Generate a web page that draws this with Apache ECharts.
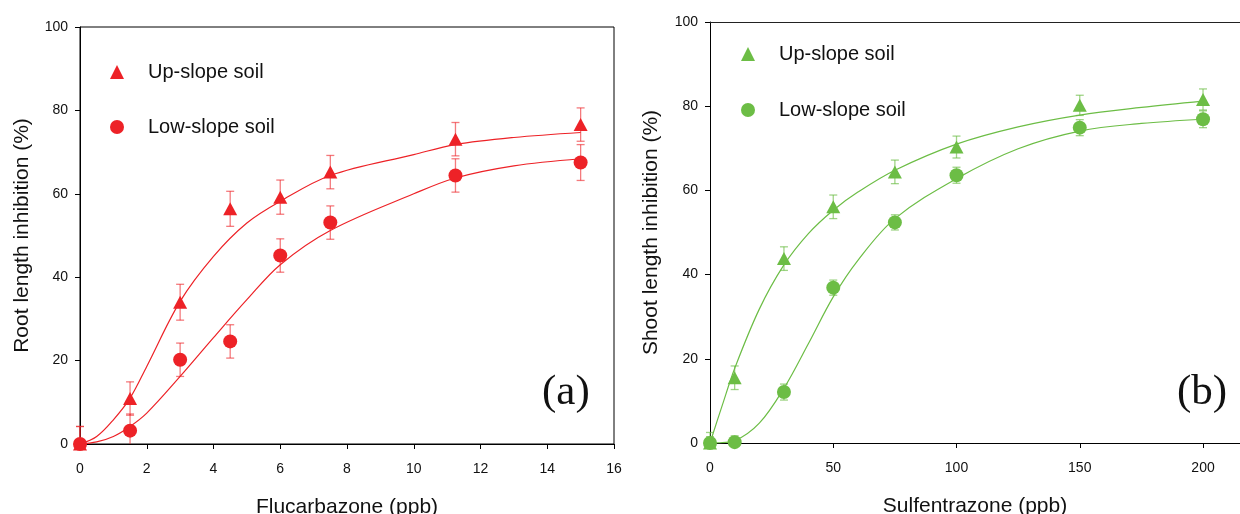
<!DOCTYPE html>
<html>
<head>
<meta charset="utf-8">
<script src="https://cdn.jsdelivr.net/npm/echarts@6/dist/echarts.min.js"></script>
<style>
  html, body { margin: 0; padding: 0; background: #fff; }
  #chart { width: 1240px; height: 514px; }
</style>
</head>
<body>
<div id="chart"></div>
<script>
// panel (a) - flucarbazone, root length
const concA = [0, 1.5, 3, 4.5, 6, 7.5, 11.25, 15]
const upA = [0, 10.9, 34.0, 56.4, 59.2, 65.2, 73.1, 76.6]
const upErrA = [4.2, 4, 4.3, 4.2, 4.1, 4, 4, 4]
const lowA = [0, 3.2, 20.2, 24.6, 45.2, 53.1, 64.4, 67.5]
const lowErrA = [4.2, 4, 4, 4, 4, 4, 4, 4.3]
// fitted curves (a)
const fitXA = [0, 0.5, 1, 1.5, 2, 3, 4, 5, 6, 7.5, 10, 11.25, 13, 15]
const upFitA = [0, 1.8, 5.8, 11.0, 18.6, 34.2, 45.0, 53.0, 58.2, 64.4, 69.4, 71.8, 73.5, 74.7]
const lowFitA = [0, 0.5, 1.8, 4.2, 7.4, 16.2, 25.5, 34.6, 43.0, 51.2, 60.0, 63.8, 66.7, 68.4]

// panel (b) - sulfentrazone, shoot length
const concB = [0, 10, 30, 50, 75, 100, 150, 200]
const upB = [0, 15.5, 43.8, 56.1, 64.4, 70.3, 80.2, 81.6]
const upErrB = [2.5, 2.8, 2.8, 2.8, 2.8, 2.6, 2.4, 2.5]
const lowB = [0, 0.2, 12.1, 36.9, 52.4, 63.6, 74.9, 76.9]
const lowErrB = [1.5, 1.5, 1.9, 1.8, 1.8, 1.9, 1.9, 2]
const fitXB = [0, 5, 10, 20, 30, 40, 50, 60, 75, 100, 125, 150, 175, 200]
const upFitB = [0, 9.0, 17.7, 31.8, 42.3, 49.8, 55.3, 59.6, 64.8, 71.0, 75.1, 77.9, 79.7, 81.2]
const lowFitB = [0, 0.1, 0.5, 4.7, 13.0, 23.7, 34.7, 43.4, 53.3, 62.8, 69.9, 74.1, 75.9, 76.9]

const red = '#ed2227'
const redErr = 'rgba(237,34,39,0.6)'
const green = '#6cbd45'
const greenErr = 'rgba(108,189,69,0.65)'
const font = 'Liberation Sans, Arial, sans-serif'

const pairs = (xs, ys) => xs.map((x, i) => [x, ys[i]])
const errData = (xs, ys, es) => xs.map((x, i) => [x, Math.max(0, ys[i] - es[i]), ys[i] + es[i]])

// vertical error bar with caps
const errRender = color => (params, api) => {
  const top = api.coord([api.value(0), api.value(2)])
  const bot = api.coord([api.value(0), api.value(1)])
  const w = 4
  const style = { stroke: color, lineWidth: 1.3 }
  const kids = [
    { type: 'line', shape: { x1: top[0], y1: top[1], x2: bot[0], y2: bot[1] }, style },
    { type: 'line', shape: { x1: top[0] - w, y1: top[1], x2: top[0] + w, y2: top[1] }, style }
  ]
  if (api.value(1) > 0) {
    kids.push({ type: 'line', shape: { x1: bot[0] - w, y1: bot[1], x2: bot[0] + w, y2: bot[1] }, style })
  }
  return { type: 'group', children: kids }
}

const axisCommon = {
  axisLine: { lineStyle: { color: '#000', width: 1 } },
  axisTick: { show: true, length: 5, lineStyle: { color: '#000' } },
  splitLine: { show: false },
  nameTextStyle: { fontSize: 21, color: '#111', fontFamily: font },
  axisLabel: { fontSize: 14, color: '#111', fontFamily: font }
}

const lineSeries = (name, xi, yi, xs, ys, color) => ({
  name, type: 'line', xAxisIndex: xi, yAxisIndex: yi,
  data: pairs(xs, ys), smooth: 0.35,
  showSymbol: false, silent: true,
  lineStyle: { color, width: 1.2 }, z: 2
})
const errSeries = (xi, yi, xs, ys, es, color) => ({
  type: 'custom', xAxisIndex: xi, yAxisIndex: yi,
  data: errData(xs, ys, es), renderItem: errRender(color), z: 3, silent: true
})
const dotSeries = (name, xi, yi, xs, ys, color, symbol) => ({
  name, type: 'scatter', xAxisIndex: xi, yAxisIndex: yi,
  data: pairs(xs, ys), symbol, symbolSize: symbol === 'triangle' ? [14, 13] : 14,
  itemStyle: { color, opacity: 1 }, z: 4
})

const legendCommon = {
  orient: 'vertical', itemWidth: 14, itemHeight: 14,
  selectedMode: false,
  formatter: n => n.replace(/ \(.\)$/, ''),
  textStyle: { fontSize: 20, color: '#111', fontFamily: font, padding: [0, 0, 0, 19] }
}

const chart = echarts.init(document.getElementById('chart'), null, { renderer: 'canvas' })
chart.setOption({
  animation: false,
  backgroundColor: '#fff',
  title: [
    { text: '(a)', left: 537, top: 366, textStyle: { fontFamily: 'Liberation Serif, Times New Roman, serif', fontSize: 43, fontWeight: 'normal', color: '#111' } },
    { text: '(b)', left: 1172, top: 366, textStyle: { fontFamily: 'Liberation Serif, Times New Roman, serif', fontSize: 43, fontWeight: 'normal', color: '#111' } }
  ],
  legend: [
    Object.assign({}, legendCommon, {
      left: 105, top: 57, itemGap: 35,
      data: [{ name: 'Up-slope soil (a)', icon: 'triangle' }, { name: 'Low-slope soil (a)', icon: 'circle' }]
    }),
    Object.assign({}, legendCommon, {
      left: 736, top: 39, itemGap: 36,
      data: [{ name: 'Up-slope soil (b)', icon: 'triangle' }, { name: 'Low-slope soil (b)', icon: 'circle' }]
    })
  ],
  grid: [
    { left: 80, top: 27, right: 626, bottom: 70, show: true, borderColor: '#000', borderWidth: 1, outerBoundsMode: 'none', containLabel: false },
    { left: 710, top: 22, right: 0, bottom: 71, outerBoundsMode: 'none', containLabel: false }
  ],
  xAxis: [
    Object.assign({}, axisCommon, {
      gridIndex: 0, type: 'value', min: 0, max: 16, interval: 2,
      name: 'Flucarbazone (ppb)', nameLocation: 'middle', nameGap: 53,
      axisLabel: Object.assign({}, axisCommon.axisLabel, { margin: 18 })
    }),
    Object.assign({}, axisCommon, {
      gridIndex: 1, type: 'value', min: 0, max: 215, interval: 50,
      name: 'Sulfentrazone (ppb)', nameLocation: 'middle', nameGap: 53,
      axisLabel: Object.assign({}, axisCommon.axisLabel, { margin: 18, formatter: v => (v > 200 ? '' : v) })
    }),
    // top frame line of panel (b)
    {
      gridIndex: 1, type: 'value', min: 0, max: 215, position: 'top',
      axisLine: { show: true, lineStyle: { color: '#222', width: 1 } },
      axisTick: { show: false }, axisLabel: { show: false }, splitLine: { show: false }
    }
  ],
  yAxis: [
    Object.assign({}, axisCommon, {
      gridIndex: 0, type: 'value', min: 0, max: 100, interval: 20,
      name: 'Root length inhibition (%)', nameLocation: 'middle', nameGap: 47,
      axisLabel: Object.assign({}, axisCommon.axisLabel, { margin: 12 })
    }),
    Object.assign({}, axisCommon, {
      gridIndex: 1, type: 'value', min: 0, max: 100, interval: 20,
      name: 'Shoot length inhibition (%)', nameLocation: 'middle', nameGap: 48,
      axisLabel: Object.assign({}, axisCommon.axisLabel, { margin: 12 })
    })
  ],
  series: [
    lineSeries('fit up a', 0, 0, fitXA, upFitA, red),
    lineSeries('fit low a', 0, 0, fitXA, lowFitA, red),
    errSeries(0, 0, concA, upA, upErrA, redErr),
    errSeries(0, 0, concA, lowA, lowErrA, redErr),
    dotSeries('Up-slope soil (a)', 0, 0, concA, upA, red, 'triangle'),
    dotSeries('Low-slope soil (a)', 0, 0, concA, lowA, red, 'circle'),

    lineSeries('fit up b', 1, 1, fitXB, upFitB, green),
    lineSeries('fit low b', 1, 1, fitXB, lowFitB, green),
    errSeries(1, 1, concB, upB, upErrB, greenErr),
    errSeries(1, 1, concB, lowB, lowErrB, greenErr),
    dotSeries('Up-slope soil (b)', 1, 1, concB, upB, green, 'triangle'),
    dotSeries('Low-slope soil (b)', 1, 1, concB, lowB, green, 'circle')
  ]
})
</script>
</body>
</html>
